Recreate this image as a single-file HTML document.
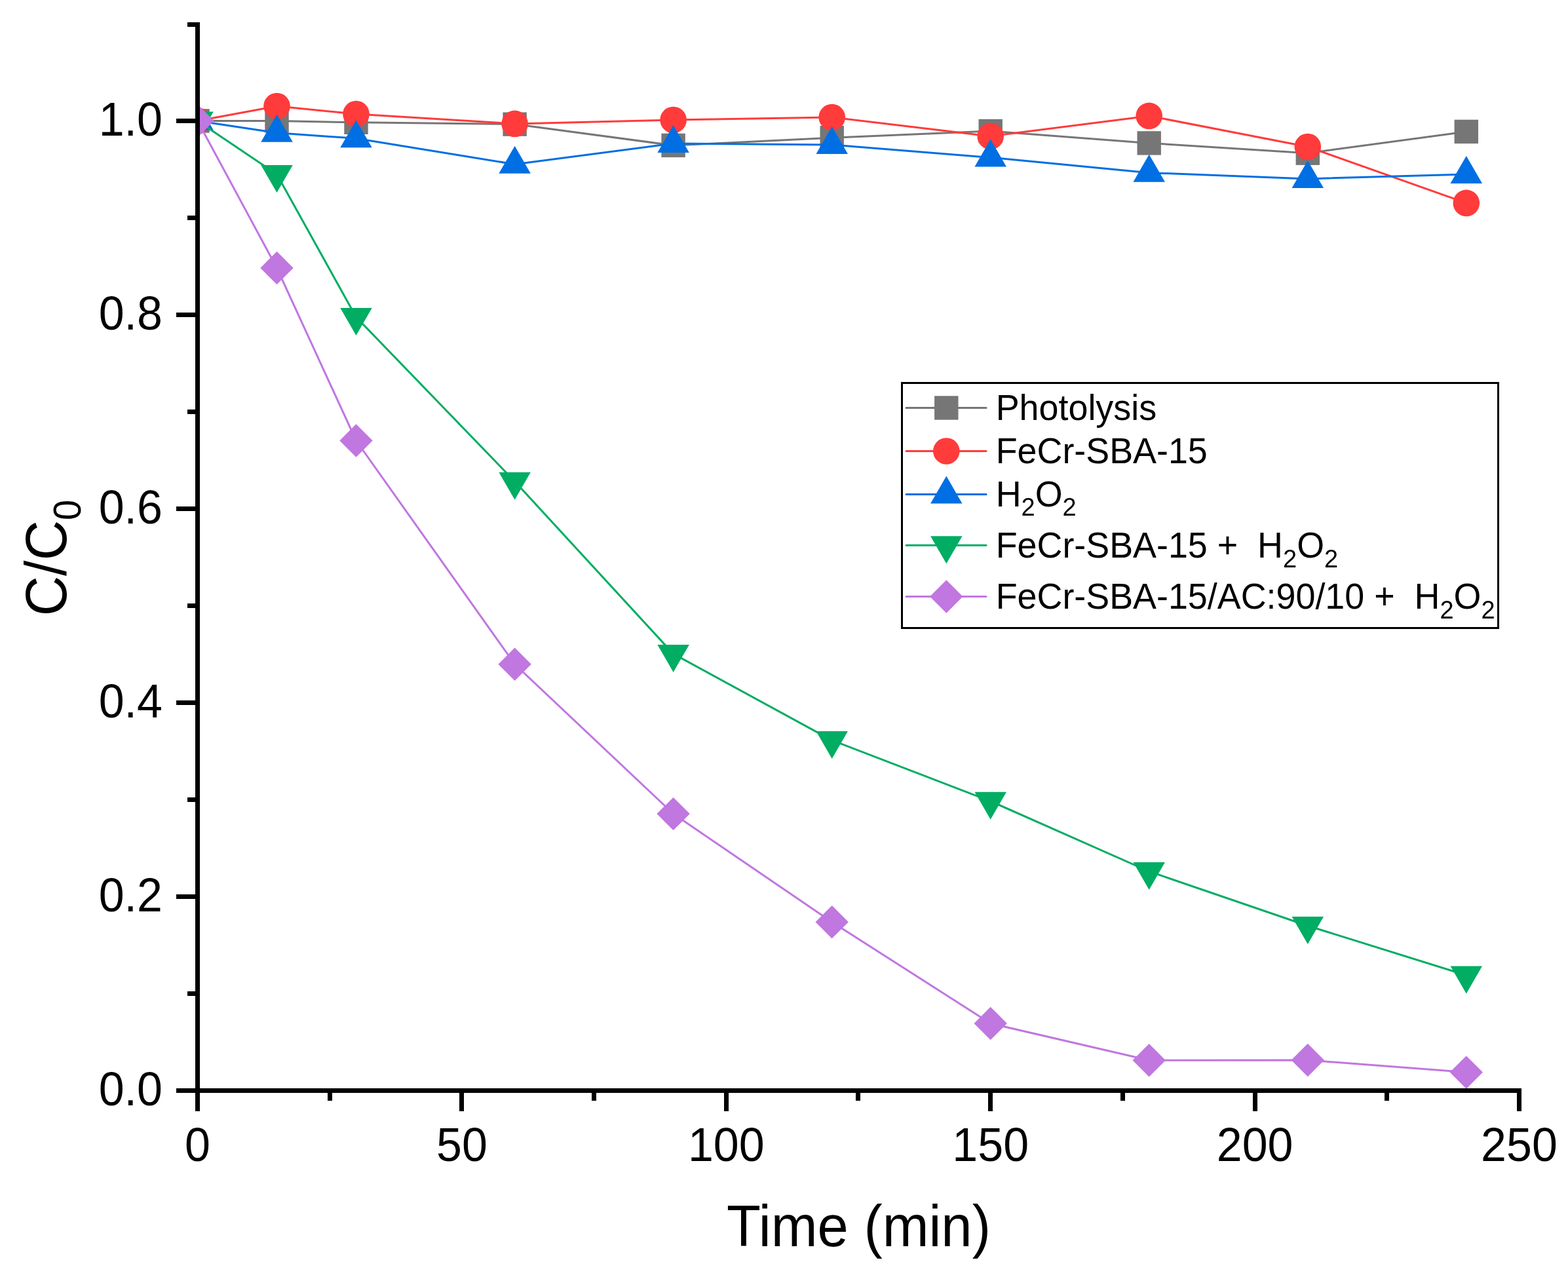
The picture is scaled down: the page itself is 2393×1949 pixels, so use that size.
<!DOCTYPE html>
<html><head><meta charset="utf-8"><title>C/C0 vs Time</title>
<style>
html,body{margin:0;padding:0;background:#fff;}
svg{display:block;}
text{font-family:"Liberation Sans",Arial,sans-serif;fill:#000;white-space:pre;}
</style></head><body>
<svg width="2393" height="1949" viewBox="0 0 2393 1949">
<rect width="2393" height="1949" fill="#fff"/>
<defs><clipPath id="pa"><rect x="298" y="0" width="2030" height="1668"/></clipPath></defs>
<g clip-path="url(#pa)">
<polyline points="301.5,184.5 422.5,184.5 543.5,186.8 785.6,189.6 1027.6,221.9 1269.7,210.2 1511.7,200.1 1753.7,218.4 1995.8,233.7 2237.8,200.9" fill="none" stroke="#767676" stroke-width="3.0" stroke-linejoin="round"/>
<rect x="283.3" y="166.3" width="36.4" height="36.4" fill="#767676"/><rect x="404.3" y="166.3" width="36.4" height="36.4" fill="#767676"/><rect x="525.3" y="168.6" width="36.4" height="36.4" fill="#767676"/><rect x="767.4" y="171.4" width="36.4" height="36.4" fill="#767676"/><rect x="1009.4" y="203.7" width="36.4" height="36.4" fill="#767676"/><rect x="1251.5" y="192" width="36.4" height="36.4" fill="#767676"/><rect x="1493.5" y="181.9" width="36.4" height="36.4" fill="#767676"/><rect x="1735.5" y="200.2" width="36.4" height="36.4" fill="#767676"/><rect x="1977.6" y="215.5" width="36.4" height="36.4" fill="#767676"/><rect x="2219.6" y="182.7" width="36.4" height="36.4" fill="#767676"/>
<polyline points="301.5,184.5 422.5,162 543.5,174.1 785.6,188.9 1027.6,183 1269.7,179 1511.7,207.9 1753.7,176.9 1995.8,224 2237.8,309.9" fill="none" stroke="#FF3B3B" stroke-width="3.0" stroke-linejoin="round"/>
<circle cx="301.5" cy="184.5" r="20.3" fill="#FF3B3B"/><circle cx="422.5" cy="162" r="20.3" fill="#FF3B3B"/><circle cx="543.5" cy="174.1" r="20.3" fill="#FF3B3B"/><circle cx="785.6" cy="188.9" r="20.3" fill="#FF3B3B"/><circle cx="1027.6" cy="183" r="20.3" fill="#FF3B3B"/><circle cx="1269.7" cy="179" r="20.3" fill="#FF3B3B"/><circle cx="1511.7" cy="207.9" r="20.3" fill="#FF3B3B"/><circle cx="1753.7" cy="176.9" r="20.3" fill="#FF3B3B"/><circle cx="1995.8" cy="224" r="20.3" fill="#FF3B3B"/><circle cx="2237.8" cy="309.9" r="20.3" fill="#FF3B3B"/>
<polyline points="301.5,184.5 422.5,202.7 543.5,211.3 785.6,250.7 1027.6,219 1269.7,220.9 1511.7,240.4 1753.7,263.7 1995.8,272.9 2237.8,265.9" fill="none" stroke="#006FE3" stroke-width="3.0" stroke-linejoin="round"/>
<path d="M301.5 156.5L325.75 198.5L277.25 198.5Z" fill="#006FE3"/><path d="M422.5 174.7L446.75 216.7L398.25 216.7Z" fill="#006FE3"/><path d="M543.5 183.3L567.75 225.3L519.25 225.3Z" fill="#006FE3"/><path d="M785.6 222.7L809.85 264.7L761.35 264.7Z" fill="#006FE3"/><path d="M1027.6 191L1051.85 233L1003.35 233Z" fill="#006FE3"/><path d="M1269.7 192.9L1293.95 234.9L1245.45 234.9Z" fill="#006FE3"/><path d="M1511.7 212.4L1535.95 254.4L1487.45 254.4Z" fill="#006FE3"/><path d="M1753.7 235.7L1777.95 277.7L1729.45 277.7Z" fill="#006FE3"/><path d="M1995.8 244.9L2020.05 286.9L1971.55 286.9Z" fill="#006FE3"/><path d="M2237.8 237.9L2262.05 279.9L2213.55 279.9Z" fill="#006FE3"/>
<polyline points="301.5,184.5 422.5,266 543.5,484 785.6,734.8 1027.6,997.9 1269.7,1129.9 1511.7,1222.8 1753.7,1330 1995.8,1413 2237.8,1488.5" fill="none" stroke="#00AD63" stroke-width="3.0" stroke-linejoin="round"/>
<path d="M301.5 212.5L325.75 170.5L277.25 170.5Z" fill="#00AD63"/><path d="M422.5 294L446.75 252L398.25 252Z" fill="#00AD63"/><path d="M543.5 512L567.75 470L519.25 470Z" fill="#00AD63"/><path d="M785.6 762.8L809.85 720.8L761.35 720.8Z" fill="#00AD63"/><path d="M1027.6 1025.9L1051.85 983.9L1003.35 983.9Z" fill="#00AD63"/><path d="M1269.7 1157.9L1293.95 1115.9L1245.45 1115.9Z" fill="#00AD63"/><path d="M1511.7 1250.8L1535.95 1208.8L1487.45 1208.8Z" fill="#00AD63"/><path d="M1753.7 1358L1777.95 1316L1729.45 1316Z" fill="#00AD63"/><path d="M1995.8 1441L2020.05 1399L1971.55 1399Z" fill="#00AD63"/><path d="M2237.8 1516.5L2262.05 1474.5L2213.55 1474.5Z" fill="#00AD63"/>
<polyline points="301.5,184.5 422.5,409 543.5,672.5 785.6,1013.8 1027.6,1242.1 1269.7,1407.2 1511.7,1562 1753.7,1618.2 1995.8,1618 2237.8,1636.6" fill="none" stroke="#C077E0" stroke-width="3.0" stroke-linejoin="round"/>
<path d="M301.5 159.3L326.7 184.5L301.5 209.7L276.3 184.5Z" fill="#C077E0"/><path d="M422.5 383.8L447.7 409L422.5 434.2L397.3 409Z" fill="#C077E0"/><path d="M543.5 647.3L568.7 672.5L543.5 697.7L518.3 672.5Z" fill="#C077E0"/><path d="M785.6 988.6L810.8 1013.8L785.6 1039L760.4 1013.8Z" fill="#C077E0"/><path d="M1027.6 1216.9L1052.8 1242.1L1027.6 1267.3L1002.4 1242.1Z" fill="#C077E0"/><path d="M1269.7 1382L1294.9 1407.2L1269.7 1432.4L1244.5 1407.2Z" fill="#C077E0"/><path d="M1511.7 1536.8L1536.9 1562L1511.7 1587.2L1486.5 1562Z" fill="#C077E0"/><path d="M1753.7 1593L1778.9 1618.2L1753.7 1643.4L1728.5 1618.2Z" fill="#C077E0"/><path d="M1995.8 1592.8L2021 1618L1995.8 1643.2L1970.6 1618Z" fill="#C077E0"/><path d="M2237.8 1611.4L2263 1636.6L2237.8 1661.8L2212.6 1636.6Z" fill="#C077E0"/>
</g>
<g fill="#000"><rect x="298" y="34" width="7" height="1634"/><rect x="298" y="1661" width="2024" height="7"/><rect x="269" y="1661" width="30" height="7"/><rect x="286" y="1513" width="13" height="7"/><rect x="269" y="1365" width="30" height="7"/><rect x="286" y="1217" width="13" height="7"/><rect x="269" y="1069" width="30" height="7"/><rect x="286" y="921" width="13" height="7"/><rect x="269" y="773" width="30" height="7"/><rect x="286" y="625" width="13" height="7"/><rect x="269" y="477" width="30" height="7"/><rect x="286" y="329" width="13" height="7"/><rect x="269" y="181" width="30" height="7"/><rect x="286" y="34" width="13" height="7"/><rect x="298" y="1667" width="7" height="29"/><rect x="500" y="1667" width="7" height="13"/><rect x="701" y="1667" width="7" height="29"/><rect x="903" y="1667" width="7" height="13"/><rect x="1105" y="1667" width="7" height="29"/><rect x="1306" y="1667" width="7" height="13"/><rect x="1508" y="1667" width="7" height="29"/><rect x="1710" y="1667" width="7" height="13"/><rect x="1912" y="1667" width="7" height="29"/><rect x="2113" y="1667" width="7" height="13"/><rect x="2315" y="1667" width="7" height="29"/></g>
<text transform="translate(248 1686.5) scale(1 1.045)" text-anchor="end" font-size="70">0.0</text><text transform="translate(248 1390.5) scale(1 1.045)" text-anchor="end" font-size="70">0.2</text><text transform="translate(248 1094.5) scale(1 1.045)" text-anchor="end" font-size="70">0.4</text><text transform="translate(248 798.5) scale(1 1.045)" text-anchor="end" font-size="70">0.6</text><text transform="translate(248 502.5) scale(1 1.045)" text-anchor="end" font-size="70">0.8</text><text transform="translate(248 206.5) scale(1 1.045)" text-anchor="end" font-size="70">1.0</text><text transform="translate(301.5 1772) scale(1 1.045)" text-anchor="middle" font-size="70">0</text><text transform="translate(704.9 1772) scale(1 1.045)" text-anchor="middle" font-size="70">50</text><text transform="translate(1108.3 1772) scale(1 1.045)" text-anchor="middle" font-size="70">100</text><text transform="translate(1511.7 1772) scale(1 1.045)" text-anchor="middle" font-size="70">150</text><text transform="translate(1915.1 1772) scale(1 1.045)" text-anchor="middle" font-size="70">200</text><text transform="translate(2318.5 1772) scale(1 1.045)" text-anchor="middle" font-size="70">250</text>
<text transform="translate(1310.5 1902) scale(1 1.045)" text-anchor="middle" font-size="85">Time (min)</text>
<text transform="translate(101 851.5) rotate(-90) scale(1 1.045)" text-anchor="middle" font-size="85">C/C<tspan font-size="56" dy="21.05">0</tspan></text>
<rect x="1376.5" y="584.5" width="910" height="374" fill="none" stroke="#000" stroke-width="3"/>
<line x1="1383" y1="622.5" x2="1505" y2="622.5" stroke="#767676" stroke-width="3.0" stroke-linecap="round"/>
<rect x="1426.1" y="604.3" width="36.4" height="36.4" fill="#767676"/>
<text transform="translate(1519.7 640.9) scale(1 1.045)" font-size="53.85">Photolysis</text>
<line x1="1383" y1="688.5" x2="1505" y2="688.5" stroke="#FF3B3B" stroke-width="3.0" stroke-linecap="round"/>
<circle cx="1444.3" cy="688.5" r="20.3" fill="#FF3B3B"/>
<text transform="translate(1519.7 706.9) scale(1 1.045)" font-size="53.85">FeCr-SBA-15</text>
<line x1="1383" y1="754.6" x2="1505" y2="754.6" stroke="#006FE3" stroke-width="3.0" stroke-linecap="round"/>
<path d="M1444.3 726.6L1468.55 768.6L1420.05 768.6Z" fill="#006FE3"/>
<text transform="translate(1519.7 772.9) scale(1 1.045)" font-size="53.85">H<tspan font-size="38" dy="13.875598086124404">2</tspan><tspan dy="-13.875598086124404">O</tspan><tspan font-size="38" dy="13.875598086124404">2</tspan></text>
<line x1="1383" y1="832.2" x2="1505" y2="832.2" stroke="#00AD63" stroke-width="3.0" stroke-linecap="round"/>
<path d="M1444.3 860.2L1468.55 818.2L1420.05 818.2Z" fill="#00AD63"/>
<text transform="translate(1519.7 851) scale(1 1.045)" font-size="53.85">FeCr-SBA-15 +  H<tspan font-size="38" dy="13.875598086124404">2</tspan><tspan dy="-13.875598086124404">O</tspan><tspan font-size="38" dy="13.875598086124404">2</tspan></text>
<line x1="1383" y1="910.5" x2="1505" y2="910.5" stroke="#C077E0" stroke-width="3.0" stroke-linecap="round"/>
<path d="M1444.3 885.3L1469.5 910.5L1444.3 935.7L1419.1 910.5Z" fill="#C077E0"/>
<text transform="translate(1519.7 929) scale(1 1.045)" font-size="53.85">FeCr-SBA-15/AC:90/10 +  H<tspan font-size="38" dy="13.875598086124404">2</tspan><tspan dy="-13.875598086124404">O</tspan><tspan font-size="38" dy="13.875598086124404">2</tspan></text>
</svg>
</body></html>
